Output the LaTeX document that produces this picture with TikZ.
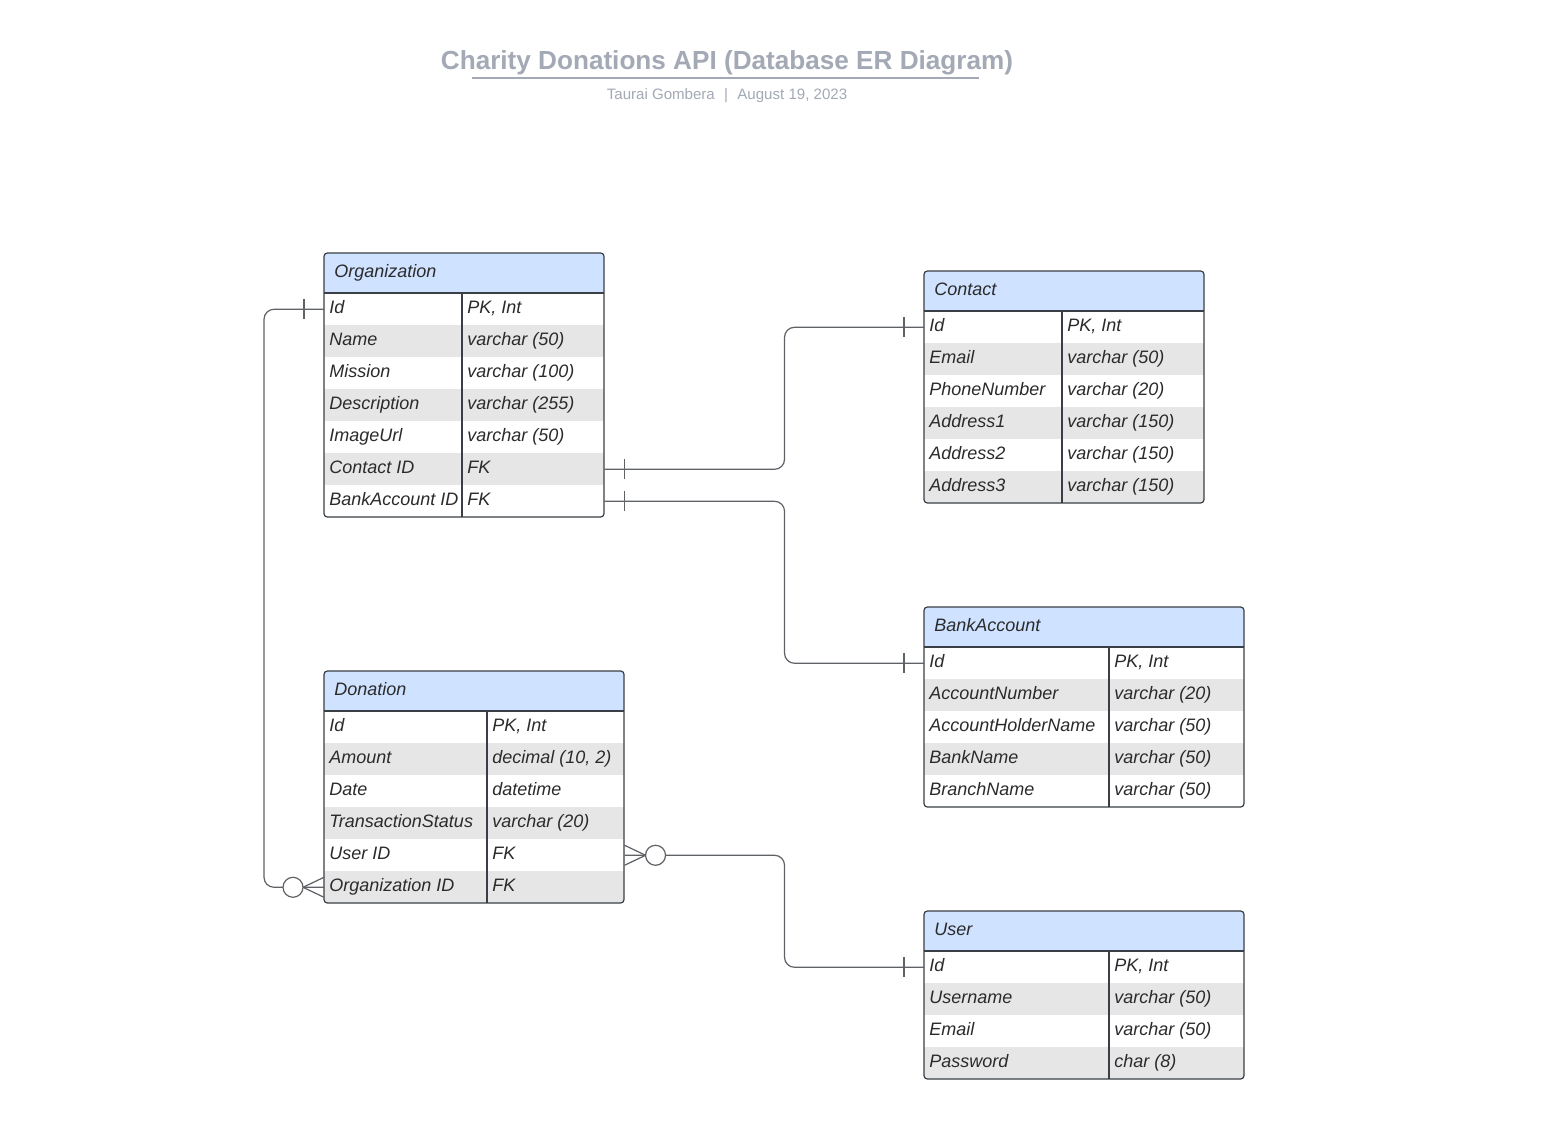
\documentclass[tikz,border=0pt]{standalone}
\usepackage{fontspec}
\setmainfont{Liberation Sans}
\definecolor{hdrblue}{HTML}{CFE2FF}
\definecolor{rowgrey}{HTML}{E6E6E6}
\definecolor{edgegrey}{HTML}{3A3F45}
\definecolor{linegrey}{HTML}{5E6166}
\definecolor{titlegrey}{HTML}{A3A9B5}
\definecolor{txtgrey}{HTML}{2B2B2B}

\tikzset{
  tbl/.style={draw=edgegrey, line width=0.9pt},
  rowbox/.style={inner sep=0pt, anchor=north west, minimum height=24pt},
  fld/.style={anchor=base west, inner sep=0pt, text=txtgrey, font=\fontsize{13.5}{16}\selectfont\itshape},
  rel/.style={draw=linegrey, line width=0.9pt, rounded corners=7.5pt},
  bar/.style={draw=linegrey, line width=0.9pt},
}

% name, x, y, width, divider, rows, title, fields
\newcommand\ertable[8]{%
  \begin{scope}
    \clip[rounded corners=2.5pt] (#2,#3) rectangle ({#2+#4},{#3+40+32*#6});
    \node[rowbox, fill=hdrblue, minimum width=#4*0.75pt, minimum height=30pt] (#1) at (#2,#3) {};
    \foreach \f/\t [count=\i] in {#8} {
      \ifodd\i \def\rc{white}\else \def\rc{rowgrey}\fi
      \node[rowbox, fill=\rc, minimum width=#4*0.75pt] (#1-\i) at (#2,{#3+8+32*\i}) {};
      \node[fld] (#1-\i-f) at ({#2+5},{#3+28+32*\i}) {\f};
      \node[fld] (#1-\i-t) at ({#2+#5+5},{#3+28+32*\i}) {\t};
    }
  \end{scope}
  \node[fld] (#1-title) at ({#2+10},{#3+24}) {#7};
  \draw[tbl] (#2,{#3+40}) -- ++(#4,0);
  \draw[tbl] ({#2+#5},{#3+40}) -- ++(0,{32*#6});
  \draw[tbl, rounded corners=2.5pt] (#2,#3) rectangle ({#2+#4},{#3+40+32*#6});
}

\begin{document}
\begin{tikzpicture}[x=0.75pt, y=-0.75pt]
\fill[white] (0,0) rectangle (1558,1129);
\useasboundingbox (0,0) rectangle (1558,1129);

% title
\node[anchor=base, inner sep=0pt, text=titlegrey, font=\bfseries\fontsize{19.6}{22}\selectfont] (title) at (727,69) {Charity Donations API (Database ER Diagram)};
\draw[titlegrey, line width=1.5pt] (472,78) -- (979,78);
\node[anchor=base, inner sep=0pt, text=titlegrey, font=\fontsize{11.3}{13}\selectfont] (sub) at (727,99) {Taurai Gombera\hspace{7pt}|\hspace{7pt}August 19, 2023};

% tables
\ertable{org}{324}{253}{280}{138}{7}{Organization}{Id/PK{,} Int, Name/varchar (50), Mission/varchar (100), Description/varchar (255), ImageUrl/varchar (50), Contact ID/FK, BankAccount ID/FK}
\ertable{con}{924}{271}{280}{138}{6}{Contact}{Id/PK{,} Int, Email/varchar (50), PhoneNumber/varchar (20), Address1/varchar (150), Address2/varchar (150), Address3/varchar (150)}
\ertable{bank}{924}{607}{320}{185}{5}{BankAccount}{Id/PK{,} Int, AccountNumber/varchar (20), AccountHolderName/varchar (50), BankName/varchar (50), BranchName/varchar (50)}
\ertable{don}{324}{671}{300}{163}{6}{Donation}{Id/PK{,} Int, Amount/decimal (10{,} 2), Date/datetime, TransactionStatus/varchar (20), User ID/FK, Organization ID/FK}
\ertable{usr}{924}{911}{320}{185}{4}{User}{Id/PK{,} Int, Username/varchar (50), Email/varchar (50), Password/char (8)}

% relations
\draw[rel] (org-1.west) -- ++(-60,0) |- (don-6.west);
\draw[rel] (org-6.east) -- ++(180,0) |- (con-1.west);
\draw[rel] (org-7.east) -- ++(180,0) |- (bank-1.west);
\draw[rel] (don-5.east) -- ++(160,0) |- (usr-1.west);

% one
\draw[bar] (org-1.west) ++(-20,-10) -- ++(0,20);
\draw[bar] (org-6.east) ++(20,-10) -- ++(0,20);
\draw[bar] (org-7.east) ++(20,-10) -- ++(0,20);
\draw[bar] (con-1.west) ++(-20,-10) -- ++(0,20);
\draw[bar] (bank-1.west) ++(-20,-10) -- ++(0,20);
\draw[bar] (usr-1.west) ++(-20,-10) -- ++(0,20);

% zero or many
\draw[bar] (don-6.west) ++(0,-10) -- ++(-21,10) -- ++(21,10);
\draw[bar, fill=white] (don-6.west) ++(-31,0) circle[radius=7.5pt];
\draw[bar] (don-5.east) ++(0,-10) -- ++(21,10) -- ++(-21,10);
\draw[bar, fill=white] (don-5.east) ++(31,0) circle[radius=7.5pt];
\end{tikzpicture}
\end{document}
